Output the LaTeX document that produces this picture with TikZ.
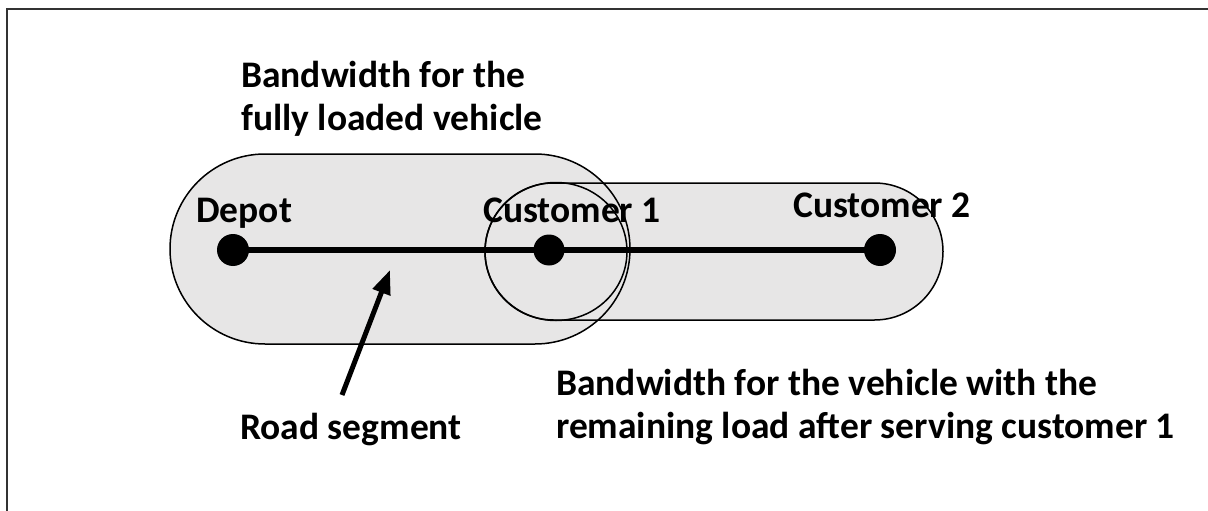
\documentclass[tikz,border=0pt]{standalone}
\usepackage{fontspec}
\setmainfont{Carlito}
\usetikzlibrary{arrows.meta}
\definecolor{bandfill}{RGB}{231,230,230}
\pgfdeclarelayer{roadlayer}
\pgfsetlayers{roadlayer,main}
\begin{document}
\begin{tikzpicture}[x=1pt,y=-1pt,
  band/.style={draw=black,line width=1.5pt},
  dot/.style={circle,fill=black,inner sep=0pt,minimum size=32pt},
  lbl/.style={font=\bfseries\fontsize{37.5}{45}\selectfont,inner sep=0pt,text=black},
  road/.style={line width=6.5pt,black},
  pointer/.style={line width=5pt,-{Triangle[length=24pt,width=18pt]}}]
\useasboundingbox (0,0) rectangle (1208,511);
% frame
\draw[line width=2.5pt,black!80] (7,520) -- (7,9) -- (1215,9);
% bandwidths
\begin{pgfonlayer}{roadlayer}
\fill[bandfill] (170,154) [rounded corners=95pt] rectangle (630,344);
\fill[bandfill] (485,183) [rounded corners=68.5pt] rectangle (943,320);
\draw[band] (170,154) [rounded corners=95pt] rectangle (630,344);
\draw[band] (485,183) [rounded corners=68.5pt] rectangle (943,320);
\draw[band] (556,251.5) ellipse [x radius=71, y radius=69];
\end{pgfonlayer}
% nodes
\node[dot] (depot) at (233,250) {};
\node[dot,minimum size=31pt] (cust1) at (549,250) {};
\node[dot] (cust2) at (880,250) {};
\begin{pgfonlayer}{roadlayer}
\draw[road] (depot.center) -- (cust1.center) -- (cust2.center);
\end{pgfonlayer}
% labels
\node[lbl,anchor=base west] (depotlbl) at (196,222) {Depot};
\node[lbl,anchor=base west] (c1lbl) at (483,222) {Customer 1};
\node[lbl,anchor=base west] (c2lbl) at (793,217) {Customer 2};
\node[lbl,anchor=base west] (roadlbl) at (240,439) {Road segment};
\node[lbl,anchor=base west] (bw1a) at (241,88) {Bandwidth for the};
\node[lbl,anchor=base west] (bw1b) at (241,130) {fully loaded vehicle};
\node[lbl,anchor=base west] (bw2a) at (556,395) {Bandwidth for the vehicle with the};
\node[lbl,anchor=base west] (bw2b) at (556,438) {remaining load after serving customer 1};
% arrow
\coordinate (tail) at (342,395);
\coordinate (tip) at (390,270);
\draw[pointer] (tail) -- (tip);
\end{tikzpicture}
\end{document}
